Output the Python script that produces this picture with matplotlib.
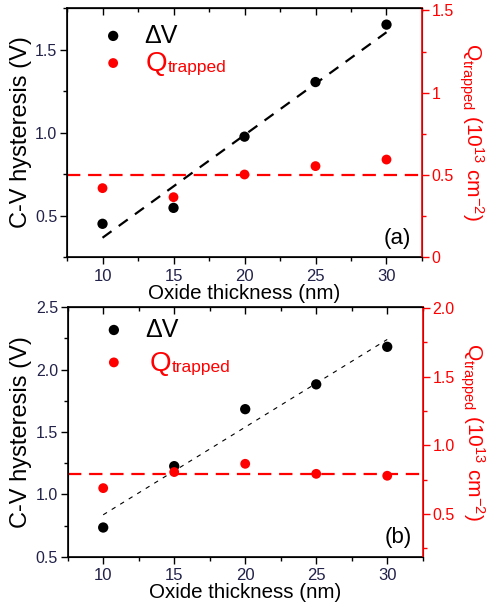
import matplotlib
matplotlib.use("Agg")
import matplotlib.pyplot as plt
from matplotlib.ticker import MultipleLocator, FixedLocator, FixedFormatter

plt.rcParams['font.family'] = ['Liberation Sans', 'DejaVu Sans']
plt.rcParams['mathtext.fontset'] = 'custom'
plt.rcParams['mathtext.rm'] = 'Liberation Sans'
plt.rcParams['mathtext.it'] = 'Liberation Sans:italic'

thickness = [10, 15, 20, 25, 30]

# Panel (a)
dv_a = [0.45, 0.546, 0.975, 1.304, 1.65]
q_a = [0.419, 0.364, 0.502, 0.553, 0.593]
fit_x_a = [10, 30]
fit_y_a = [0.366, 1.604]
q_mean_a = 0.5

# Panel (b)
dv_b = [0.734, 1.226, 1.683, 1.882, 2.183]
q_b = [0.689, 0.806, 0.866, 0.793, 0.779]
fit_x_b = [10, 30]
fit_y_b = [0.836, 2.242]
q_mean_b = 0.791

fig = plt.figure(figsize=(4.86, 6.03), dpi=100)

RED = '#ff0000'
TICKCOL = '#22224a'


def panel(rect, dv, q, fx, fy, qmean, ylim_l, lticks, ylim_r, rticks, rlabels,
          fit_lw, fit_dash, tag, leg_y, q_text_x):
    ax = fig.add_axes(rect)
    ax.set_xlim(7.5, 32.5)
    ax.set_ylim(*ylim_l)
    ax2 = ax.twinx()
    ax2.set_ylim(*ylim_r)

    ax.plot(fx, fy, color='black', lw=fit_lw, dashes=fit_dash, zorder=2)
    ax2.axhline(qmean, color=RED, lw=1.6, dashes=(6, 3.5), zorder=2)
    ax.scatter(thickness, dv, s=55, color='black', zorder=4, edgecolors='none')
    ax2.scatter(thickness, q, s=50, color=RED, zorder=4, edgecolors='none')

    ax.set_xticks([10, 15, 20, 25, 30])
    ax.xaxis.set_minor_locator(MultipleLocator(2.5))
    ax.set_yticks(lticks)
    ax.set_yticklabels(['%.1f' % v for v in lticks])
    ax.yaxis.set_minor_locator(MultipleLocator(0.25))
    ax.tick_params(axis='x', which='both', direction='out', top=False,
                   labelsize=12, labelcolor=TICKCOL)
    ax.tick_params(axis='y', which='both', direction='out', pad=2,
                   labelsize=11.5, labelcolor=TICKCOL)
    ax.tick_params(which='major', length=5, width=1)
    ax.tick_params(which='minor', length=3, width=1)

    # top spine ticks inward
    sec = ax.secondary_xaxis('top')
    sec.set_xticks([10, 15, 20, 25, 30])
    sec.xaxis.set_minor_locator(MultipleLocator(2.5))
    sec.tick_params(which='both', direction='in', labeltop=False)
    sec.tick_params(which='major', length=5, width=1)
    sec.tick_params(which='minor', length=3, width=1)

    ax2.yaxis.set_major_locator(FixedLocator(rticks))
    ax2.yaxis.set_major_formatter(FixedFormatter(rlabels))
    ax2.yaxis.set_minor_locator(MultipleLocator(0.25))
    ax2.tick_params(axis='y', which='both', direction='out', colors=RED,
                    labelsize=11.5, labelcolor=RED, pad=2)
    ax2.tick_params(which='major', length=5, width=1)
    ax2.tick_params(which='minor', length=3, width=1)
    ax2.spines['right'].set_color(RED)
    for s in ['left', 'top', 'bottom']:
        ax.spines[s].set_linewidth(1.2)
    ax2.spines['right'].set_linewidth(1.2)

    ax.set_xlabel('Oxide thickness (nm)', fontsize=14.8, labelpad=0)
    ax.set_ylabel('C-V hysteresis (V)', fontsize=17)
    ax.yaxis.set_label_coords(-0.1, 0.5)
    ax2.set_ylabel(r'Q$_{\mathregular{trapped}}$ (10$^{\mathregular{13}}$ cm$^{\mathregular{-2}}$)',
                   fontsize=15, color=RED, rotation=270)
    ax2.yaxis.label.set_verticalalignment('bottom')
    ax2.yaxis.set_label_coords(1.1, 0.5)

    # legend
    ax.scatter([0.13], [leg_y[0]], s=55, color='black', transform=ax.transAxes,
               clip_on=False, zorder=5, edgecolors='none')
    ax.scatter([0.13], [leg_y[1]], s=50, color=RED, transform=ax.transAxes,
               clip_on=False, zorder=5, edgecolors='none')
    ax.text(0.218, leg_y[0], '\u0394V', transform=ax.transAxes, fontsize=18,
            va='center', ha='left', color='black')
    qt = ax.text(q_text_x, leg_y[1] - 0.005, 'Q', transform=ax.transAxes, fontsize=20,
                 va='center', ha='left', color=RED)
    ax.annotate('trapped', xy=(1.0, 0.08), xycoords=qt, fontsize=12.5, color=RED,
                va='bottom', ha='left')
    ax.text(0.93, 0.075, tag, transform=ax.transAxes, fontsize=16,
            ha='center', va='center', color='black')
    return ax


panel([0.1379, 0.5738, 0.7304, 0.4129], dv_a, q_a, fit_x_a, fit_y_a, q_mean_a,
      (0.25, 1.75), [0.5, 1.0, 1.5], (0.0, 1.515), [0, 0.5, 1.0, 1.5],
      ['0', '0.5', '1', '1.5'], 1.6, (5, 4), '(a)', (0.888, 0.779), 0.222)

panel([0.1393, 0.0768, 0.7305, 0.4136], dv_b, q_b, fit_x_b, fit_y_b, q_mean_b,
      (0.5, 2.5), [0.5, 1.0, 1.5, 2.0, 2.5], (0.19, 2.005), [0.5, 1.0, 1.5, 2.0],
      ['0.5', '1.0', '1.5', '2.0'], 0.8, (4, 5), '(b)', (0.909, 0.779), 0.232)

fig.savefig('out.png', dpi=100)
